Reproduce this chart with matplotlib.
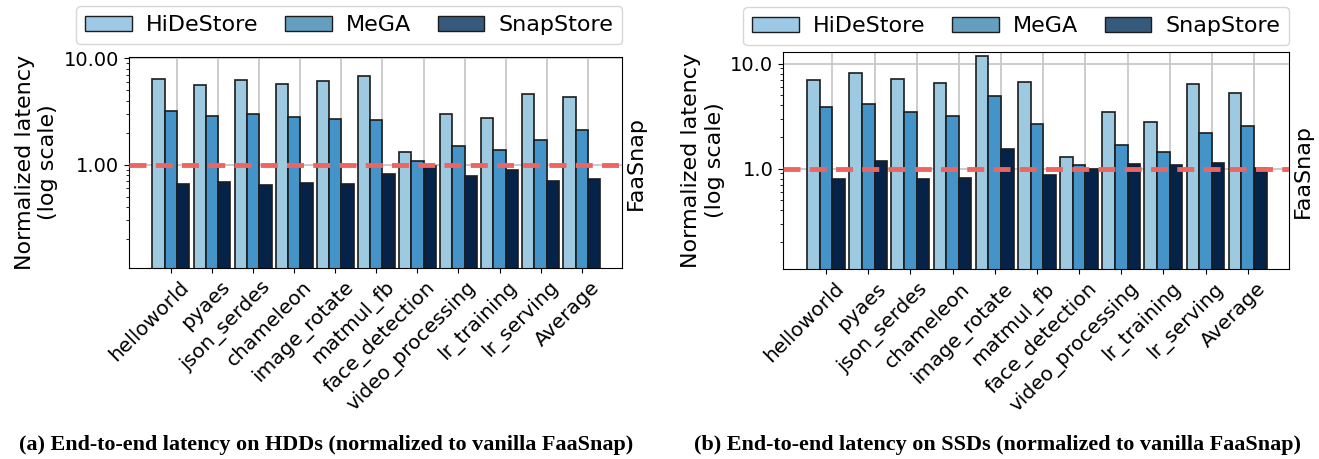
import matplotlib
matplotlib.use("Agg")
import matplotlib.pyplot as plt
import numpy as np
from matplotlib.patches import Patch
from matplotlib.transforms import ScaledTranslation
from matplotlib.ticker import FormatStrFormatter, NullFormatter

# benchmark names and systems
apps = ['helloworld', 'pyaes', 'json_serdes', 'chameleon', 'image_rotate',
        'matmul_fb', 'face_detection', 'video_processing', 'lr_training',
        'lr_serving', 'Average']
systems = ['HiDeStore', 'MeGA', 'SnapStore']

# latency normalized to vanilla FaaSnap, HDD
hdd_hidestore = [6.39, 5.65, 6.21, 5.69, 6.12, 6.82, 1.31, 2.97, 2.73, 4.62, 4.36]
hdd_mega      = [3.20, 2.87, 2.97, 2.83, 2.69, 2.65, 1.08, 1.50, 1.38, 1.72, 2.13]
hdd_snapstore = [0.654, 0.683, 0.644, 0.669, 0.663, 0.823, 0.97, 0.788, 0.892, 0.703, 0.738]

# latency normalized to vanilla FaaSnap, SSD
ssd_hidestore = [6.95, 8.21, 7.10, 6.50, 11.9, 6.65, 1.30, 3.47, 2.80, 6.37, 5.26]
ssd_mega      = [3.87, 4.10, 3.49, 3.15, 4.96, 2.65, 1.08, 1.67, 1.45, 2.19, 2.57]
ssd_snapstore = [0.803, 1.18, 0.80, 0.82, 1.54, 0.865, 0.99, 1.10, 1.08, 1.14, 1.01]

bar_colors = ['#9ecae1', '#4494c9', '#052249']
legend_colors = ['#9dc9e6', '#659fc0', '#365a7c']
faasnap_red = '#ee6461'

W = 1319
H = 459
fig = plt.figure(figsize=(W / 100, H / 100), dpi=100)


def px_axes(l, t, r, b):
    return fig.add_axes([l / W, 1 - b / H, (r - l) / W, (b - t) / H])


def draw(ax, hide, mega, snap, ylim, fmt, leg_y, faas_y):
    x = np.arange(len(apps))
    w = 0.3
    ax.set_yscale('log')
    ax.set_axisbelow(True)
    for off, vals, c in zip([-w, 0, w], [hide, mega, snap], bar_colors):
        ax.bar(x + off, vals, w, color=c, edgecolor='#1c1c1c', linewidth=1.2)
    ax.axhline(1.0, color=faasnap_red, lw=3.5, ls=(0, (3.5, 1.9)), zorder=5)

    ax.set_xlim(-1.02, len(apps) - 0.02)
    ax.set_ylim(*ylim)
    ax.set_xticks(x)
    ax.set_xticks(x + w / 2, minor=True)
    ax.tick_params(axis='x', which='minor', length=0)
    ax.set_xticklabels(apps, rotation=45, ha='right', va='top',
                       rotation_mode='anchor', fontsize=14.5)
    shift = ScaledTranslation(0.08, 0, fig.dpi_scale_trans)
    for lab in ax.get_xticklabels():
        lab.set_transform(lab.get_transform() + shift)

    ax.yaxis.set_major_formatter(FormatStrFormatter(fmt))
    ax.yaxis.set_minor_formatter(NullFormatter())
    ax.tick_params(axis='y', labelsize=14)
    ax.grid(True, which='minor', axis='x', color='#c8c8c8', lw=1.3)
    ax.grid(True, which='major', axis='y', color='#c8c8c8', lw=1.3)

    ax.set_ylabel('Normalized latency\n(log scale)', fontsize=16)
    ax.text(1.008, faas_y, 'FaaSnap', transform=ax.transAxes, rotation=90,
            ha='left', va='center', fontsize=16)

    handles = [Patch(facecolor=c, edgecolor='#1c1c1c', label=s)
               for c, s in zip(legend_colors, systems)]
    ax.legend(handles=handles, ncol=3, loc='lower right',
              bbox_to_anchor=(1.0, leg_y), fontsize=16, handlelength=2.1,
              handletextpad=0.63, columnspacing=1.2, borderaxespad=0)


ax1 = px_axes(129, 57.3, 622, 267.7)
draw(ax1, hdd_hidestore, hdd_mega, hdd_snapstore, (0.108, 10.2), '%.2f', 1.062, 0.5)

ax2 = px_axes(783, 51.7, 1289, 269.3)
draw(ax2, ssd_hidestore, ssd_mega, ssd_snapstore, (0.110, 13.0), '%.1f', 1.031, 0.453)

fig.text(326 / W, 1 - 445 / H,
         '(a) End-to-end latency on HDDs (normalized to vanilla FaaSnap)',
         ha='center', va='center', fontsize=15.9, fontweight='bold',
         family='Liberation Serif')
fig.text(997 / W, 1 - 445 / H,
         '(b) End-to-end latency on SSDs (normalized to vanilla FaaSnap)',
         ha='center', va='center', fontsize=15.9, fontweight='bold',
         family='Liberation Serif')

fig.savefig('out.png', dpi=100)
